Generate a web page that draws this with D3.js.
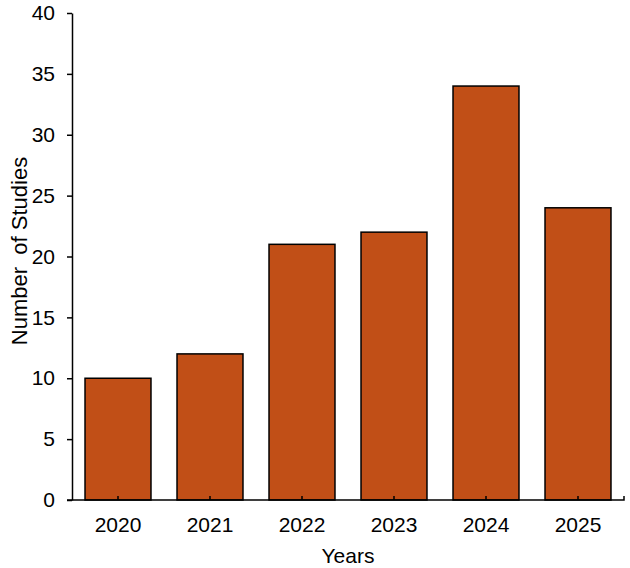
<!DOCTYPE html>
<html>
<head>
  <script src="https://cdn.jsdelivr.net/npm/d3@7"></script>
  <style>
    body { margin: 0; background: #fff; }
    text { font-family: "Liberation Sans", Arial, sans-serif; fill: #000; }
  </style>
</head>
<body>
  <div id="chart"></div>
  <script>
    const years = ["2020", "2021", "2022", "2023", "2024", "2025"];
    const studies = [10, 12, 21, 22, 34, 24];
    const yTicks = [0, 5, 10, 15, 20, 25, 30, 35, 40];

    const width = 630, height = 568;
    const plotLeft = 72, plotRight = 624, plotTop = 13, plotBottom = 500;

    const svg = d3.select("#chart").append("svg")
      .attr("width", width)
      .attr("height", height);

    const x = d3.scaleBand()
      .domain(years)
      .range([plotLeft, plotRight])
      .paddingInner(0.283)
      .paddingOuter(0.1415);

    const y = d3.scaleLinear()
      .domain([0, 40])
      .range([plotBottom, plotTop]);

    // bars
    svg.append("g")
      .selectAll("rect")
      .data(years.map((yr, i) => ({ yr, v: studies[i] })))
      .enter().append("rect")
      .attr("x", d => x(d.yr))
      .attr("y", d => y(d.v))
      .attr("width", x.bandwidth())
      .attr("height", d => y(0) - y(d.v))
      .attr("fill", "#C14F17")
      .attr("stroke", "#000")
      .attr("stroke-width", 1.5);

    // y axis
    const yAxis = svg.append("g")
      .attr("transform", `translate(${plotLeft},0)`)
      .call(d3.axisLeft(y).tickValues(yTicks).tickSize(5).tickPadding(12).tickSizeOuter(0));
    yAxis.select(".domain").attr("stroke-width", 1.5);
    yAxis.selectAll(".tick line").attr("stroke-width", 1.5);
    yAxis.selectAll("text").attr("font-size", 21);

    // x axis
    const xAxis = svg.append("g")
      .attr("transform", `translate(0,${plotBottom})`)
      .call(d3.axisBottom(x).tickSize(-4).tickPadding(17).tickSizeOuter(0));
    xAxis.select(".domain").attr("d", `M${plotLeft - 5},0H${plotRight}V-4`).attr("stroke-width", 1.5);
    xAxis.selectAll(".tick line").attr("stroke-width", 1.5);
    xAxis.selectAll("text").attr("font-size", 21);

    // axis titles
    svg.append("text")
      .attr("x", (plotLeft + plotRight) / 2)
      .attr("y", 563)
      .attr("text-anchor", "middle")
      .attr("font-size", 21)
      .text("Years");

    svg.append("text")
      .attr("transform", `translate(27,251) rotate(-90)`)
      .attr("text-anchor", "middle")
      .attr("font-size", 22)
      .style("white-space", "pre")
      .text("Number  of Studies");
  </script>
</body>
</html>
